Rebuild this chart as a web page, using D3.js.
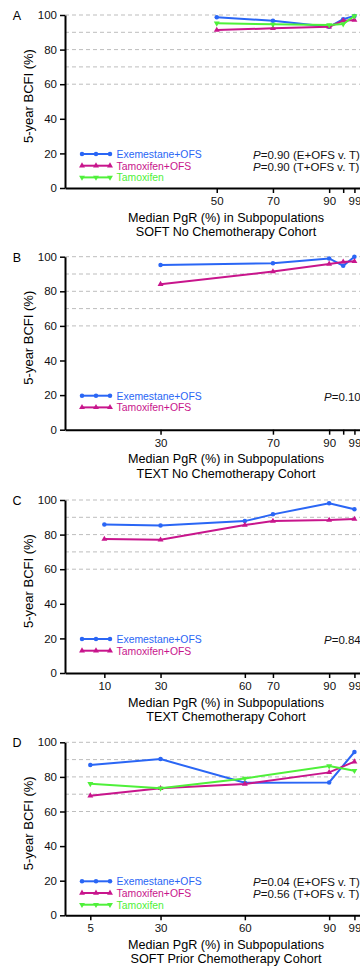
<!DOCTYPE html>
<html>
<head>
<meta charset="utf-8">
<script src="https://cdn.jsdelivr.net/npm/d3@7"></script>
<style>
  html, body { margin: 0; padding: 0; background: #fff; overflow: hidden; }
  svg { display: block; font-family: "Liberation Sans", Arial, sans-serif; }
</style>
</head>
<body>
<div id="chart"></div>
<script>
// panel A - SOFT no chemo
const pgrA = [50, 70, 90, 95, 99]
const exeOfsA = [98.7, 96.7, 93.2, 97.6, 99.4]
const tamOfsA = [91.3, 92.3, 93.2, 96.7, 97.1]
const tamA = [95.2, 94.6, 94.2, 94.8, 99.4]
const ticksA = [50, 70, 90, 95, 99]
const pTextA = ['0.90 (E+OFS v. T)', '0.90 (T+OFS v. T)']

// panel B - TEXT no chemo
const pgrB = [30, 70, 90, 95, 99]
const exeOfsB = [95.2, 96.2, 99.0, 94.8, 100]
const tamOfsB = [84.1, 91.4, 95.8, 97.0, 97.3]
const ticksB = [30, 70, 90, 95, 99]
const pTextB = ['0.10']

// panel C - TEXT chemo
const pgrC = [10, 30, 60, 70, 90, 99]
const exeOfsC = [85.9, 85.3, 87.8, 91.7, 98.1, 94.6]
const tamOfsC = [77.4, 77.0, 85.5, 87.8, 88.4, 89.0]
const ticksC = [10, 30, 60, 70, 90, 99]
const pTextC = ['0.84']

// panel D - SOFT prior chemo
const pgrD = [5, 30, 60, 90, 99]
const exeOfsD = [86.9, 90.3, 76.6, 76.8, 94.4]
const tamOfsD = [69.1, 73.4, 75.9, 82.6, 88.8]
const tamD = [76.0, 73.4, 79.1, 86.3, 83.6]
const ticksD = [5, 30, 60, 90, 99]
const pTextD = ['0.04 (E+OFS v. T)', '0.56 (T+OFS v. T)']

const unlabeledTicks = [95]
const yTicks = [0, 20, 40, 60, 80, 100]
const gridValues = [60, 70, 80, 90, 100]
const seriesNames = ['Exemestane+OFS', 'Tamoxifen+OFS', 'Tamoxifen']
const seriesColors = ['#2a66f5', '#c8158c', '#4ff03a']
const xTitle = 'Median PgR (%) in Subpopulations'
const yTitle = '5-year BCFI (%)'

const panels = [
  { label: 'A', cohort: 'SOFT No Chemotherapy Cohort', pgr: pgrA, series: [exeOfsA, tamOfsA, tamA], ticks: ticksA, p: pTextA, pX: 253 },
  { label: 'B', cohort: 'TEXT No Chemotherapy Cohort', pgr: pgrB, series: [exeOfsB, tamOfsB], ticks: ticksB, p: pTextB, pX: 324 },
  { label: 'C', cohort: 'TEXT Chemotherapy Cohort', pgr: pgrC, series: [exeOfsC, tamOfsC], ticks: ticksC, p: pTextC, pX: 324 },
  { label: 'D', cohort: 'SOFT Prior Chemotherapy Cohort', pgr: pgrD, series: [exeOfsD, tamOfsD, tamD], ticks: ticksD, p: pTextD, pX: 253 }
]

const width = 360
const height = 969
const left = 65
const plotH = 173
const tops = [15, 256.7, 500, 742.3]

const svg = d3.select('#chart')
  .append('svg')
  .attr('width', width)
  .attr('height', height)

const x = d3.scaleLinear().domain([-4, 103]).range([left, left + 107 * 2.81])

const symbols = [
  d3.symbol().type(d3.symbolCircle).size(16),
  d3.symbol().type(d3.symbolTriangle).size(15),
  d3.symbol().type(d3.symbolTriangle).size(15)
]

panels.forEach((panel, pi) => {
  const top = tops[pi]
  const y = d3.scaleLinear().domain([0, 100]).range([top + plotH, top])
  const g = svg.append('g')

  // dashed grid
  g.selectAll('.grid')
    .data(gridValues)
    .join('line')
    .attr('x1', left)
    .attr('x2', width)
    .attr('y1', d => y(d))
    .attr('y2', d => y(d))
    .attr('stroke', '#bdbdbd')
    .attr('stroke-width', 1)
    .attr('stroke-dasharray', '4,3')

  // y axis
  const yAxis = g.append('g')
    .attr('transform', `translate(${left},0)`)
    .call(d3.axisLeft(y).tickValues(yTicks).tickSize(5).tickSizeOuter(0).tickPadding(3))
  yAxis.select('.domain').attr('stroke', '#000').attr('stroke-width', 2)
  yAxis.selectAll('.tick line').attr('stroke', '#000').attr('stroke-width', 1.5)
  yAxis.selectAll('.tick text').attr('font-size', 11.5).attr('fill', '#111').attr('font-family', null)

  // x axis
  const xAxis = g.append('g')
    .attr('transform', `translate(0,${top + plotH})`)
    .call(d3.axisBottom(x).tickValues(panel.ticks).tickSize(5).tickSizeOuter(0).tickPadding(4)
      .tickFormat(d => unlabeledTicks.includes(d) ? '' : d))
  xAxis.select('.domain').attr('stroke', '#000').attr('stroke-width', 2)
  xAxis.selectAll('.tick line').attr('stroke', '#000').attr('stroke-width', 1.5)
  xAxis.selectAll('.tick text').attr('font-size', 11.5).attr('fill', '#111').attr('font-family', null)

  // panel letter
  g.append('text')
    .attr('x', 17)
    .attr('y', top + 5)
    .attr('text-anchor', 'middle')
    .attr('font-size', 12.5)
    .text(panel.label)

  // y title
  g.append('text')
    .attr('transform', `translate(33,${top + 81}) rotate(-90)`)
    .attr('text-anchor', 'middle')
    .attr('font-size', 13)
    .text(yTitle)

  // x titles
  g.append('text')
    .attr('x', 226)
    .attr('y', top + plotH + 33.5)
    .attr('text-anchor', 'middle')
    .attr('font-size', 12.6)
    .text(xTitle)
  g.append('text')
    .attr('x', 226)
    .attr('y', top + plotH + 48)
    .attr('text-anchor', 'middle')
    .attr('font-size', 12.6)
    .text(panel.cohort)

  // series
  const line = d3.line()
    .x(d => x(d[0]))
    .y(d => y(d[1]))

  panel.series.forEach((vals, si) => {
    const pts = panel.pgr.map((p, i) => [p, vals[i]])
    g.append('path')
      .datum(pts)
      .attr('d', line)
      .attr('fill', 'none')
      .attr('stroke', seriesColors[si])
      .attr('stroke-width', 2)
    g.selectAll('.pt' + si)
      .data(pts)
      .join('path')
      .attr('d', symbols[si])
      .attr('transform', d => `translate(${x(d[0])},${y(d[1])})${si === 2 ? ' rotate(180)' : ''}`)
      .attr('fill', seriesColors[si])
  })

  // legend
  panel.series.forEach((vals, si) => {
    const ly = top + 139 + si * 11.7
    const lg = g.append('g')
    lg.append('line')
      .attr('x1', 82)
      .attr('x2', 110)
      .attr('y1', ly)
      .attr('y2', ly)
      .attr('stroke', seriesColors[si])
      .attr('stroke-width', 2)
    lg.selectAll('path')
      .data([82, 96, 110])
      .join('path')
      .attr('d', symbols[si])
      .attr('transform', d => `translate(${d},${ly})${si === 2 ? ' rotate(180)' : ''}`)
      .attr('fill', seriesColors[si])
    lg.append('text')
      .attr('x', 116.5)
      .attr('y', ly + 4)
      .attr('font-size', 10.4)
      .attr('fill', seriesColors[si])
      .text(seriesNames[si])
  })

  // P values
  panel.p.forEach((t, k) => {
    const txt = g.append('text')
      .attr('x', panel.pX)
      .attr('y', top + 144 + k * 12)
      .attr('font-size', 11.5)
      .attr('fill', '#111')
    txt.append('tspan').attr('font-style', 'italic').text('P')
    txt.append('tspan').text('=' + t)
  })
})
</script>
</body>
</html>
